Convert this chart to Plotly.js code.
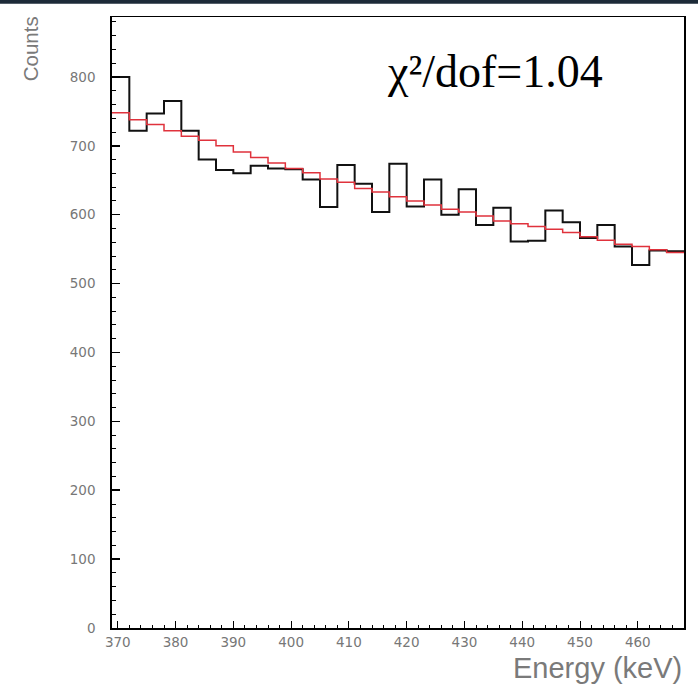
<!DOCTYPE html>
<html>
<head>
<meta charset="utf-8">
<script src="https://cdn.plot.ly/plotly-3.0.1.min.js"></script>
<style>
  html, body { margin: 0; padding: 0; background: #ffffff; }
  #chart { width: 698px; height: 691px; }
</style>
</head>
<body>
<div id="chart"></div>
<script>
// Energy spectrum: 33 bins of 3 keV starting at 369 keV
const binStart = 369;
const binWidth = 3;

// Measured counts per bin
const measuredCounts = [800, 722, 747, 765, 722, 680, 665, 660, 671, 667, 666,
                        651, 611, 672, 645, 604, 674, 612, 651, 600, 637, 585,
                        610, 561, 562, 606, 589, 566, 585, 554, 527, 548, 547];

// Fitted model, integrated per bin
const fitCounts = [748, 738, 731, 722, 714, 708, 700, 691, 683, 675, 667,
                   661, 652, 647, 638, 633, 626, 620, 614, 608, 604, 598,
                   591, 587, 583, 579, 574, 568, 563, 557, 554, 549, 545];

const xTickValues = [370, 380, 390, 400, 410, 420, 430, 440, 450, 460];
const yTickValues = [0, 100, 200, 300, 400, 500, 600, 700, 800];

const fitLabel = 'χ²/dof=1.04';
const xLabel = 'Energy (keV)';
const yLabel = 'Counts';

// Step outline: bin edges, with the last bin repeated to close it
function edges(n) {
  const e = [];
  for (let i = 0; i <= n; i++) e.push(binStart + i * binWidth);
  return e;
}
function closeSteps(values) {
  return values.concat([values[values.length - 1]]);
}

const xEdges = edges(measuredCounts.length);
const xMax = xEdges[xEdges.length - 1];

const traces = [
  {
    x: xEdges,
    y: closeSteps(measuredCounts),
    type: 'scatter',
    mode: 'lines',
    line: { shape: 'hv', color: '#111111', width: 2 },
    hoverinfo: 'skip'
  },
  {
    x: xEdges,
    y: closeSteps(fitCounts),
    type: 'scatter',
    mode: 'lines',
    line: { shape: 'hv', color: '#e0323c', width: 1.5 },
    hoverinfo: 'skip'
  }
];

const tickFont = { family: 'DejaVu Sans, Verdana, sans-serif', size: 13.5, color: '#777777' };

const layout = {
  width: 698,
  height: 691,
  margin: { l: 112, r: 14, t: 17, b: 63 },
  paper_bgcolor: '#ffffff',
  plot_bgcolor: '#ffffff',
  showlegend: false,
  xaxis: {
    range: [binStart, xMax],
    showgrid: false,
    zeroline: false,
    showline: true,
    linecolor: '#000000',
    linewidth: 1.5,
    mirror: true,
    ticks: 'inside',
    ticklen: 7,
    tickwidth: 1,
    tickcolor: '#000000',
    tickvals: xTickValues,
    ticktext: xTickValues.map(String),
    tickfont: tickFont,
    ticklabelstandoff: 1,
    minor: { dtick: 2, tick0: 370, ticks: 'inside', ticklen: 3, tickcolor: '#000000', tickwidth: 1, showgrid: false }
  },
  yaxis: {
    range: [0, 887],
    showgrid: false,
    zeroline: false,
    showline: true,
    linecolor: '#000000',
    linewidth: 1.8,
    mirror: true,
    ticks: 'inside',
    ticklen: 8,
    tickwidth: 1.5,
    tickcolor: '#000000',
    tickvals: yTickValues,
    ticktext: yTickValues.map(String),
    tickfont: tickFont,
    ticklabelstandoff: 12,
    minor: { dtick: 20, tick0: 0, ticks: 'inside', ticklen: 4, tickcolor: '#000000', tickwidth: 1, showgrid: false }
  },
  annotations: [
    {
      text: fitLabel,
      xref: 'paper', yref: 'paper',
      x: 0.67, y: 0.91,
      xanchor: 'center', yanchor: 'middle',
      showarrow: false,
      font: { family: 'Liberation Serif, DejaVu Serif, serif', size: 46, color: '#000000' }
    },
    {
      text: xLabel,
      xref: 'paper', yref: 'paper',
      x: 1.0, y: -0.066,
      xanchor: 'right', yanchor: 'middle',
      showarrow: false,
      font: { family: 'Liberation Sans, Arial, sans-serif', size: 29, color: '#7a7a7a' }
    },
    {
      text: yLabel,
      xref: 'paper', yref: 'paper',
      x: -0.143, y: 1.004,
      xanchor: 'center', yanchor: 'top',
      textangle: -90,
      showarrow: false,
      font: { family: 'Liberation Sans, Arial, sans-serif', size: 20.5, color: '#7a7a7a' }
    }
  ],
  shapes: [
    {
      type: 'rect', xref: 'paper', yref: 'paper', layer: 'above',
      x0: -0.25, x1: 1.05, y0: 1.0215, y1: 1.03,
      line: { width: 0 },
      fillcolor: '#1d2a38'
    }
  ]
};

Plotly.newPlot('chart', traces, layout, { displayModeBar: false, staticPlot: true });
</script>
</body>
</html>
